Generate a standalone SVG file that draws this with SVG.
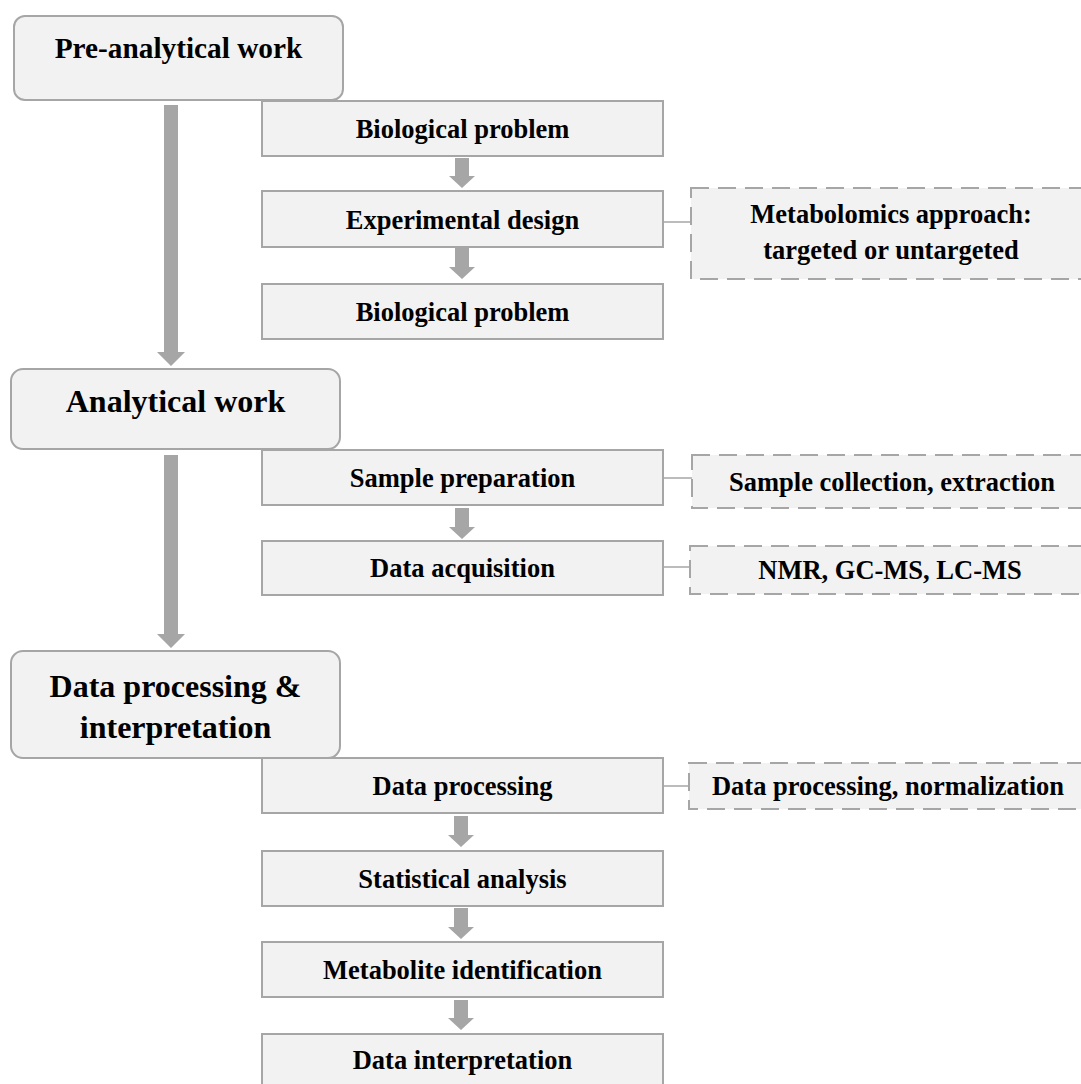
<svg xmlns="http://www.w3.org/2000/svg" width="1081" height="1084" viewBox="0 0 1081 1084">
<style>
.stage{fill:#f2f2f2;stroke:#a6a6a6;stroke-width:2}
.step{fill:#f2f2f2;stroke:#a6a6a6;stroke-width:2}
.note{fill:#f2f2f2;stroke:#a6a6a6;stroke-width:2;stroke-dasharray:18 9}
.arr{fill:#a6a6a6;stroke:none}
.link{stroke:#a6a6a6;stroke-width:1.5;fill:none}
text{font-family:"Liberation Serif","Times New Roman",serif;font-weight:bold;fill:#000;text-anchor:middle}
.t1{font-size:29.3px}
.t2{font-size:32px}
.t3{font-size:26.5px}
</style>
<rect width="1081" height="1084" fill="#ffffff"/>
<g id="connectors">
<path class="arr" d="M164,105 H178 V352 H185 L171,366 L157,352 H164 Z"/>
<path class="arr" d="M164,455 H178 V634 H185 L171,648 L157,634 H164 Z"/>
<path class="arr" d="M455,158 H469 V176 H475 L462,188 L449,176 H455 Z"/>
<path class="arr" d="M455,248 H469 V267 H475 L462,279 L449,267 H455 Z"/>
<path class="arr" d="M455,508 H469 V527 H475 L462,539 L449,527 H455 Z"/>
<path class="arr" d="M454,816 H468 V835 H474 L461,847 L448,835 H454 Z"/>
<path class="arr" d="M454,908 H468 V927 H474 L461,939 L448,927 H454 Z"/>
<path class="arr" d="M454,1000 H468 V1018 H474 L461,1030 L448,1018 H454 Z"/>
<line class="link" x1="663" y1="222" x2="691" y2="222"/>
<line class="link" x1="663" y1="478" x2="692" y2="478"/>
<line class="link" x1="663" y1="567" x2="690" y2="567"/>
<line class="link" x1="663" y1="786" x2="689" y2="786"/>
</g>
<g id="pre-analytical">
<rect class="stage" x="14" y="16" width="329" height="84" rx="11"/>
<text class="t1" x="178.5" y="58">Pre-analytical work</text>
</g>
<g id="bio-problem-1">
<rect class="step" x="262" y="101" width="401" height="55"/>
<text class="t3" x="462.5" y="137.5">Biological problem</text>
</g>
<g id="experimental-design">
<rect class="step" x="262" y="191" width="401" height="56"/>
<text class="t3" x="462.5" y="228.5">Experimental design</text>
</g>
<g id="metabolomics-approach">
<rect class="note" x="691" y="188" width="400" height="91"/>
<text class="t3" x="891" y="223">Metabolomics approach:</text>
<text class="t3" x="891" y="259">targeted or untargeted</text>
</g>
<g id="bio-problem-2">
<rect class="step" x="262" y="284" width="401" height="55"/>
<text class="t3" x="462.5" y="320.5">Biological problem</text>
</g>
<g id="analytical">
<rect class="stage" x="11" y="369" width="329" height="80" rx="12"/>
<text class="t2" x="175.5" y="412">Analytical work</text>
</g>
<g id="sample-preparation">
<rect class="step" x="262" y="450" width="401" height="55"/>
<text class="t3" x="462.5" y="487">Sample preparation</text>
</g>
<g id="sample-collection">
<rect class="note" x="692" y="455" width="400" height="53"/>
<text class="t3" x="892" y="490.5">Sample collection, extraction</text>
</g>
<g id="data-acquisition">
<rect class="step" x="262" y="541" width="401" height="54"/>
<text class="t3" x="462.5" y="577">Data acquisition</text>
</g>
<g id="instruments">
<rect class="note" x="690" y="546" width="400" height="48"/>
<text class="t3" x="890" y="579">NMR, GC-MS, LC-MS</text>
</g>
<g id="data-processing-interpretation">
<rect class="stage" x="11" y="651" width="329" height="107" rx="12"/>
<text class="t2" x="175.5" y="697">Data processing &amp;</text>
<text class="t2" x="175.5" y="738">interpretation</text>
</g>
<g id="data-processing">
<rect class="step" x="262" y="758" width="401" height="55"/>
<text class="t3" x="462.5" y="795">Data processing</text>
</g>
<g id="normalization">
<rect class="note" x="689" y="763" width="400" height="46"/>
<text class="t3" x="888" y="795">Data processing, normalization</text>
</g>
<g id="statistical-analysis">
<rect class="step" x="262" y="851" width="401" height="55"/>
<text class="t3" x="462.5" y="888">Statistical analysis</text>
</g>
<g id="metabolite-identification">
<rect class="step" x="262" y="942" width="401" height="55"/>
<text class="t3" x="462.5" y="979">Metabolite identification</text>
</g>
<g id="data-interpretation">
<rect class="step" x="262" y="1034" width="401" height="55"/>
<text class="t3" x="462.5" y="1069">Data interpretation</text>
</g>
</svg>
